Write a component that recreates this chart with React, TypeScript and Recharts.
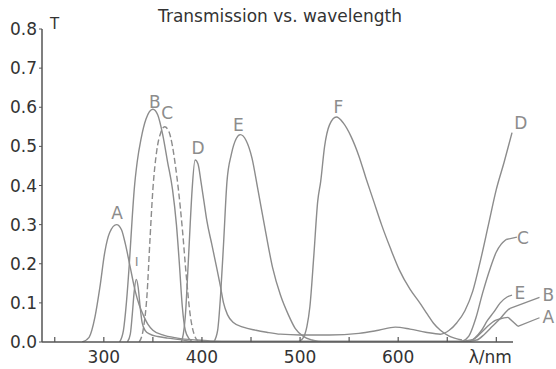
import React from "react";
import {
  LineChart,
  Line,
  XAxis,
  YAxis,
  ReferenceDot,
  ReferenceLine,
} from "recharts";

// Filter transmission curves (nm, T).
const A_NM = [278, 285, 291, 296, 301, 306, 313, 318, 322, 327, 332, 336, 340, 345, 350, 360, 375, 395, 420, 660, 676, 685, 692, 699, 705, 712];
const A_T = [0, 0.012, 0.064, 0.14, 0.23, 0.28, 0.3, 0.287, 0.25, 0.19, 0.13, 0.095, 0.07, 0.045, 0.03, 0.018, 0.01, 0.005, 0.002, 0.002, 0.006, 0.025, 0.042, 0.055, 0.06, 0.063];

const I_NM = [324, 327, 329, 331, 333, 335, 337, 339, 342, 347, 355, 365, 378, 392];
const I_T = [0, 0.02, 0.07, 0.13, 0.16, 0.14, 0.09, 0.05, 0.03, 0.02, 0.014, 0.01, 0.006, 0];

const B_NM = [316, 320, 323, 326, 329, 331, 334, 338, 343, 350, 355, 360, 365, 370, 374, 377, 380, 383, 387, 392, 660, 680, 688, 696, 704, 711, 714];
const B_T = [0, 0.03, 0.1, 0.2, 0.32, 0.39, 0.46, 0.52, 0.57, 0.595, 0.58, 0.53, 0.46, 0.39, 0.3, 0.2, 0.09, 0.03, 0.008, 0, 0, 0.005, 0.02, 0.04, 0.06, 0.08, 0.086];

const C_UV_NM = [336, 340, 344, 347, 350, 354, 358, 362, 366, 370, 373, 376, 380, 384, 388, 392, 397];
const C_UV_T = [0, 0.03, 0.12, 0.26, 0.39, 0.49, 0.535, 0.55, 0.54, 0.5, 0.45, 0.39, 0.29, 0.17, 0.07, 0.02, 0];
const C_IR_NM = [664, 672, 679, 686, 694, 700, 705, 710];
const C_IR_T = [0, 0.015, 0.06, 0.125, 0.19, 0.23, 0.25, 0.262];

const D_NM = [379, 381, 383, 386, 388, 390, 393, 396, 399, 402, 405, 410, 415, 419, 422, 426, 432, 442, 455, 466, 480, 500, 530, 560, 580, 597, 612, 628, 643, 652, 660, 668, 676, 684, 692, 700, 708, 716];
const D_T = [0, 0.02, 0.064, 0.2, 0.3, 0.39, 0.465, 0.455, 0.41, 0.36, 0.31, 0.25, 0.19, 0.14, 0.1, 0.07, 0.05, 0.038, 0.03, 0.025, 0.02, 0.018, 0.018, 0.022, 0.03, 0.038, 0.033, 0.025, 0.02, 0.03, 0.05, 0.08, 0.13, 0.21, 0.3, 0.39, 0.46, 0.535];

const E_NM = [412, 416, 419, 422, 425.5, 430, 435, 439, 445, 451, 457, 465, 472, 480, 488, 495, 503, 512, 525, 670, 678, 685, 691, 697, 704, 711, 716];
const E_T = [0, 0.03, 0.12, 0.25, 0.41, 0.48, 0.52, 0.53, 0.515, 0.47, 0.39, 0.28, 0.19, 0.12, 0.07, 0.035, 0.015, 0.005, 0, 0, 0.01, 0.03, 0.055, 0.075, 0.1, 0.115, 0.12];

const F_NM = [498, 503, 507, 510, 514, 518, 521, 525, 530, 537, 544, 552, 560, 567, 575, 583, 592, 601, 612, 622, 630, 636, 643, 652, 665];
const F_T = [0, 0.01, 0.04, 0.09, 0.22, 0.36, 0.41, 0.5, 0.555, 0.575, 0.56, 0.525, 0.475, 0.42, 0.36, 0.3, 0.24, 0.185, 0.135, 0.1, 0.07, 0.048, 0.03, 0.015, 0.005];

const X_TICKS = [250, 300, 350, 400, 450, 500, 550, 600, 650, 700];
const X_LABELS = [300, 400, 500, 600];
const Y_TICKS = [0, 0.1, 0.2, 0.3, 0.4, 0.5, 0.6, 0.7, 0.8];

// curve letters: [name, nm, T]
const TAGS: [string, number, number][] = [
  ["A", 313.5, 0.33],
  ["B", 352, 0.614],
  ["C", 364.5, 0.586],
  ["D", 396, 0.496],
  ["E", 437, 0.555],
  ["F", 539, 0.6],
  ["D", 725, 0.56],
  ["C", 727, 0.266],
  ["E", 724, 0.125],
  ["B", 753, 0.12],
  ["A", 753, 0.064],
];

const GREY = "#8c8c8c";
const AXIS = "#555";
const FONT = "'DejaVu Sans', sans-serif";

const pts = (nm: number[], t: number[]) => nm.map((x, i) => ({ nm: x, t: t[i] }));

function XTick(props: any) {
  const { x, y, payload } = props;
  const v = payload.value;
  const label = X_LABELS.includes(v) ? String(v) : v === 700 ? "λ/nm" : "";
  return (
    <g>
      <line x1={x} x2={x} y1={y} y2={y - 5} stroke={AXIS} strokeWidth={1.2} />
      <text x={v === 700 ? x - 6 : x} y={y + 21} textAnchor="middle" fill="#333" fontSize={17} fontFamily={FONT}>
        {label}
      </text>
    </g>
  );
}

const tagShape = (name: string, small?: boolean) => (p: any) => (
  <text
    x={p.cx}
    y={p.cy}
    textAnchor="middle"
    dominantBaseline="central"
    fill={GREY}
    fontSize={small ? 13 : 17}
    fontFamily={FONT}
  >
    {name}
  </text>
);

export default function App() {
  const line = (key: string, nm: number[], t: number[], dash?: string) => (
    <Line
      key={key}
      data={pts(nm, t)}
      dataKey="t"
      type="monotone"
      stroke={GREY}
      strokeWidth={1.4}
      strokeDasharray={dash}
      dot={false}
      activeDot={false}
      isAnimationActive={false}
    />
  );

  return (
    <div style={{ position: "absolute", left: 0, top: 0, width: 556, height: 369, background: "#fff" }}>
      <LineChart width={556} height={369} margin={{ top: 29, right: 43, bottom: 0, left: 0 }}>
        <XAxis
          type="number"
          dataKey="nm"
          domain={[237, 717]}
          allowDataOverflow
          ticks={X_TICKS}
          tick={<XTick />}
          tickLine={false}
          tickSize={0}
          tickMargin={0}
          height={27}
          axisLine={{ stroke: AXIS, strokeWidth: 1.5 }}
        />
        <YAxis
          type="number"
          domain={[0, 0.8]}
          allowDataOverflow
          ticks={Y_TICKS}
          tickFormatter={(v) => Number(v).toFixed(1)}
          width={42}
          tickSize={3}
          tickMargin={2}
          tick={{ fill: "#333", fontSize: 17, fontFamily: FONT }}
          tickLine={{ stroke: AXIS }}
          axisLine={{ stroke: AXIS, strokeWidth: 1.5 }}
        />
        {line("A", A_NM, A_T)}
        {line("I", I_NM, I_T)}
        {line("B", B_NM, B_T)}
        {line("Cuv", C_UV_NM, C_UV_T, "6 3")}
        {line("Cir", C_IR_NM, C_IR_T)}
        {line("D", D_NM, D_T)}
        {line("E", E_NM, E_T)}
        {line("F", F_NM, F_T)}
        {/* lead lines from curve ends to their letters */}
        <ReferenceLine segment={[{ x: 710, y: 0.262 }, { x: 721, y: 0.268 }]} stroke={GREY} strokeWidth={1.3} ifOverflow="visible" />
        <ReferenceLine segment={[{ x: 714, y: 0.086 }, { x: 744, y: 0.114 }]} stroke={GREY} strokeWidth={1.3} ifOverflow="visible" />
        <ReferenceLine segment={[{ x: 712, y: 0.063 }, { x: 722, y: 0.04 }]} stroke={GREY} strokeWidth={1.3} ifOverflow="visible" />
        <ReferenceLine segment={[{ x: 722, y: 0.04 }, { x: 744, y: 0.062 }]} stroke={GREY} strokeWidth={1.3} ifOverflow="visible" />
        {TAGS.map(([name, x, y], i) => (
          <ReferenceDot key={i} x={x} y={y} r={0} ifOverflow="visible" shape={tagShape(name)} />
        ))}
        <ReferenceDot x={333.5} y={0.205} r={0} ifOverflow="visible" shape={tagShape("I", true)} />
      </LineChart>
      <div style={{ position: "absolute", left: 0, top: 6, width: 556, textAlign: "center", fontFamily: FONT, fontSize: 17, color: "#333", paddingLeft: 4, boxSizing: "border-box" }}>
        Transmission vs. wavelength
      </div>
      <div style={{ position: "absolute", left: 50, top: 15, fontFamily: FONT, fontSize: 15, color: "#333" }}>T</div>
    </div>
  );
}
